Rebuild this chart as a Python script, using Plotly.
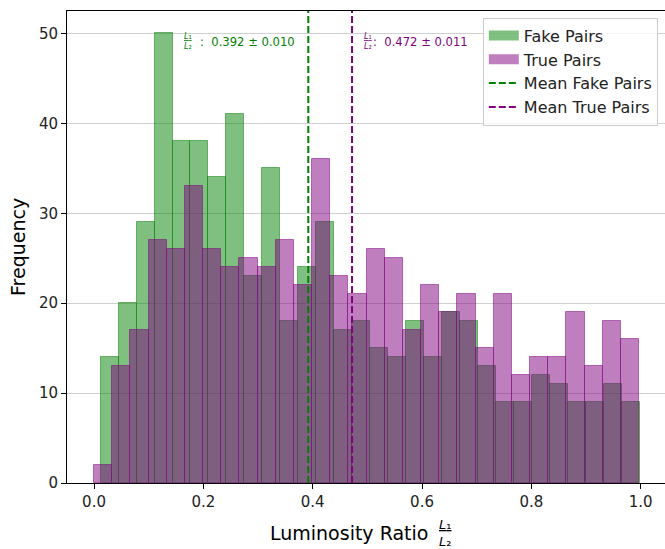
import numpy as np
import plotly.graph_objects as go

# ---------------- data ----------------
fake_counts = [14, 20, 29, 50, 38, 38, 34, 41, 23, 35, 18, 24, 29, 17, 18,
               15, 14, 18, 14, 19, 18, 13, 9, 9, 12, 11, 9, 9, 11, 9]
true_counts = [2, 13, 17, 27, 26, 33, 26, 24, 25, 24, 27, 22, 36, 23, 21,
               26, 25, 17, 22, 19, 21, 15, 21, 12, 14, 14, 19, 13, 18, 16]
fake_range = [0.0122, 0.998]     # min / max of the fake-pair ratios
true_range = [0.0, 0.9972]       # min / max of the true-pair ratios
mean_fake, sem_fake = 0.392, 0.010
mean_true, sem_true = 0.472, 0.011
x_ticks = [0.0, 0.2, 0.4, 0.6, 0.8, 1.0]
y_ticks = [0, 10, 20, 30, 40, 50]

# ---------------- styles ----------------
GREEN = "rgb(0,128,0)"
PURPLE = "rgb(128,0,128)"
GREEN_A = "rgba(0,128,0,0.5)"
PURPLE_A = "rgba(128,0,128,0.5)"
FONT = "DejaVu Sans"
FRAC = "<span style='text-decoration:underline'><i>L</i>₁</span><br><i>L</i>₂"


def bins(rng, counts):
    edges = np.linspace(rng[0], rng[1], len(counts) + 1)
    return (edges[:-1] + edges[1:]) / 2, np.diff(edges)


fc, fw = bins(fake_range, fake_counts)
tc, tw = bins(true_range, true_counts)
y_top = max(max(fake_counts), max(true_counts)) * 1.05

fig = go.Figure()
fig.add_trace(go.Bar(x=fc, y=fake_counts, width=fw, name="Fake Pairs", showlegend=False,
                     marker=dict(color=GREEN_A, line=dict(color=GREEN_A, width=1))))
fig.add_trace(go.Bar(x=tc, y=true_counts, width=tw, name="True Pairs", showlegend=False,
                     marker=dict(color=PURPLE_A, line=dict(color=PURPLE_A, width=1))))
# legend patches (wide rectangles like matplotlib)
fig.add_trace(go.Scatter(x=[None], y=[None], mode="lines", name="Fake Pairs",
                         line=dict(color=GREEN_A, width=12)))
fig.add_trace(go.Scatter(x=[None], y=[None], mode="lines", name="True Pairs",
                         line=dict(color=PURPLE_A, width=12)))
fig.add_trace(go.Scatter(x=[mean_fake, mean_fake], y=[0, y_top], mode="lines",
                         name="Mean Fake Pairs",
                         line=dict(color=GREEN, width=2, dash="7px,3px")))
fig.add_trace(go.Scatter(x=[mean_true, mean_true], y=[0, y_top], mode="lines",
                         name="Mean True Pairs",
                         line=dict(color=PURPLE, width=2, dash="7px,3px")))

ann = []
ty = 49
# green stats text (ends just left of the mean line)
ann.append(dict(x=mean_fake - 0.02, y=ty, xref="x", yref="y", xanchor="right",
                yanchor="middle", showarrow=False,
                text=f":\u00a0\u00a0{mean_fake:.3f} ± {sem_fake:.3f}",
                font=dict(family=FONT, size=11.6, color=GREEN)))
ann.append(dict(x=mean_fake - 0.02, y=ty, xref="x", yref="y", xanchor="center",
                yanchor="middle", showarrow=False, xshift=-109, yshift=1,
                text=FRAC, font=dict(family=FONT, size=8, color=GREEN)))
# purple stats text (starts just right of the mean line)
ann.append(dict(x=mean_true + 0.02, y=ty, xref="x", yref="y", xanchor="left",
                yanchor="middle", showarrow=False, xshift=8,
                text=f":\u00a0\u00a0{mean_true:.3f} ± {sem_true:.3f}",
                font=dict(family=FONT, size=11.6, color=PURPLE)))
ann.append(dict(x=mean_true + 0.02, y=ty, xref="x", yref="y", xanchor="center",
                yanchor="middle", showarrow=False, xshift=5, yshift=1,
                text=FRAC, font=dict(family=FONT, size=8, color=PURPLE)))
# axis titles
ann.append(dict(x=0.5, y=0, xref="paper", yref="paper", xanchor="right",
                yanchor="middle", showarrow=False, xshift=64, yshift=-50,
                text="Luminosity Ratio",
                font=dict(family=FONT, size=19, color="black")))
ann.append(dict(x=0.5, y=0, xref="paper", yref="paper", xanchor="center",
                yanchor="middle", showarrow=False, xshift=79, yshift=-50,
                text=FRAC, font=dict(family=FONT, size=13, color="black")))
ann.append(dict(x=0, y=0.5, xref="paper", yref="paper", xanchor="center",
                yanchor="middle", showarrow=False, xshift=-49, textangle=-90,
                text="Frequency", font=dict(family=FONT, size=19, color="black")))

fig.update_layout(
    width=665, height=549,
    margin=dict(l=67, r=0, t=11, b=66),
    paper_bgcolor="white", plot_bgcolor="white",
    barmode="overlay", bargap=0,
    font=dict(family=FONT, size=15, color="black"),
    annotations=ann,
    legend=dict(x=0.988, y=0.986, xanchor="right", yanchor="top",
                bgcolor="rgba(255,255,255,0.8)", bordercolor="#cccccc",
                borderwidth=1, font=dict(family=FONT, size=16, color="#222"),
                tracegroupgap=0, itemwidth=30),
    xaxis=dict(range=[-0.0494, 1.0445], tickvals=x_ticks,
               ticktext=[f"{v:.1f}" for v in x_ticks],
               ticks="outside", ticklen=5, tickcolor="black", tickwidth=1,
               showline=True, linecolor="black", linewidth=1, mirror=True,
               showgrid=False, zeroline=False,
               tickfont=dict(family=FONT, size=15, color="#222")),
    yaxis=dict(range=[0, y_top], tickvals=y_ticks,
               ticks="outside", ticklen=5, tickcolor="black", tickwidth=1,
               showline=True, linecolor="black", linewidth=1,
               showgrid=True, gridcolor="#d0d0d0", gridwidth=1, zeroline=False,
               tickfont=dict(family=FONT, size=15, color="#222")),
)

fig.write_html("out.html")
